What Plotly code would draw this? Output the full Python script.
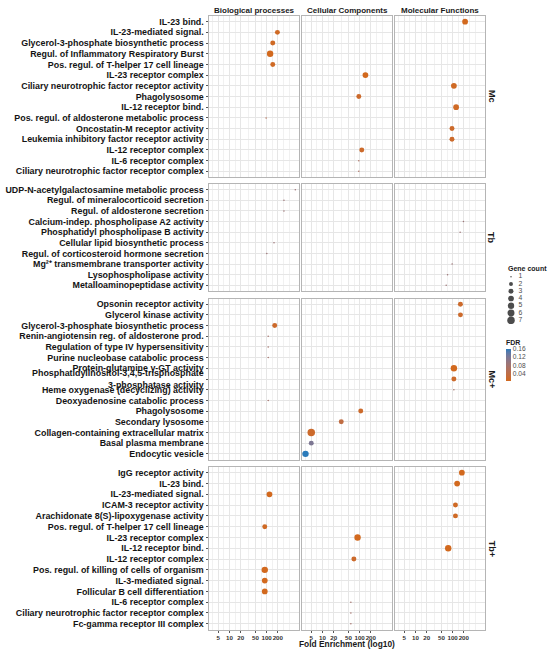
import numpy as np
import plotly.graph_objects as go

# ---------------- data ----------------
row_names = ["Mc", "Tb", "Mc+", "Tb+"]
col_names = ["Biological processes", "Cellular Components", "Molecular Functions"]
col_codes = ["BP", "CC", "MF"]

mc_terms = ["IL-23 bind.", "IL-23-mediated signal.", "Glycerol-3-phosphate biosynthetic process",
            "Regul. of Inflammatory Respiratory Burst", "Pos. regul. of T-helper 17 cell lineage",
            "IL-23 receptor complex", "Ciliary neurotrophic factor receptor activity", "Phagolysosome",
            "IL-12 receptor bind.", "Pos. regul. of aldosterone metabolic process",
            "Oncostatin-M receptor activity", "Leukemia inhibitory factor receptor activity",
            "IL-12 receptor complex", "IL-6 receptor complex", "Ciliary neurotrophic factor receptor complex"]
mc_class = ["MF", "BP", "BP", "BP", "BP", "CC", "MF", "CC", "MF", "BP", "MF", "MF", "CC", "CC", "CC"]
mc_fold = [216, 195, 146, 124, 146, 143, 108, 95, 124, 97, 96, 96, 114, 95, 95]
mc_count = [4, 3, 3, 5, 3, 4, 4, 3, 4, 1, 3, 3, 3, 1, 1]
mc_fdr = [0.01, 0.015, 0.015, 0.01, 0.015, 0.01, 0.015, 0.02, 0.015, 0.06, 0.02, 0.02, 0.02, 0.07, 0.07]

tb_terms = ["UDP-N-acetylgalactosamine metabolic process", "Regul. of mineralocorticoid secretion",
            "Regul. of aldosterone secretion", "Calcium-indep. phospholipase A2 activity",
            "Phosphatidyl phospholipase B activity", "Cellular lipid biosynthetic process",
            "Regul. of corticosteroid hormone secretion", "Mg²⁺ transmembrane transporter activity",
            "Lysophospholipase activity", "Metalloaminopeptidase activity"]
tb_class = ["BP", "BP", "BP", "MF", "MF", "BP", "BP", "MF", "MF", "MF"]
tb_fold = [589, 292, 292, 195, 159, 158, 101, 97, 73, 67]
tb_count = [1, 1, 1, 1, 1, 1, 1, 1, 1, 1]
tb_fdr = [0.09, 0.09, 0.09, 0.09, 0.09, 0.09, 0.09, 0.09, 0.09, 0.09]

mcp_terms = ["Opsonin receptor activity", "Glycerol kinase activity", "Glycerol-3-phosphate biosynthetic process",
             "Renin-angiotensin reg. of aldosterone prod.", "Regulation of type IV hypersensitivity",
             "Purine nucleobase catabolic process", "Protein-glutamine γ-GT activity",
             "Phosphatidylinositol-3,4,5-trisphosphate<br>3-phosphatase activity",
             "Heme oxygenase (decyclizing) activity", "Deoxyadenosine catabolic process", "Phagolysosome",
             "Secondary lysosome", "Collagen-containing extracellular matrix", "Basal plasma membrane",
             "Endocytic vesicle"]
mcp_class = ["MF", "MF", "BP", "BP", "BP", "BP", "MF", "MF", "MF", "BP", "CC", "CC", "CC", "CC", "CC"]
mcp_fold = [162, 162, 165, 110, 110, 110, 108, 108, 108, 110, 107, 32, 5.0, 5.0, 3.5]
mcp_count = [3, 3, 3, 1, 1, 1, 5, 3, 1, 1, 3, 3, 7, 3, 5]
mcp_fdr = [0.02, 0.02, 0.02, 0.08, 0.08, 0.08, 0.01, 0.02, 0.08, 0.08, 0.02, 0.04, 0.02, 0.12, 0.16]

tbp_terms = ["IgG receptor activity", "IL-23 bind.", "IL-23-mediated signal.", "ICAM-3 receptor activity",
             "Arachidonate 8(S)-lipoxygenase activity", "Pos. regul. of T-helper 17 cell lineage",
             "IL-23 receptor complex", "IL-12 receptor bind.", "IL-12 receptor complex",
             "Pos. regul. of killing of cells of organism", "IL-3-mediated signal.",
             "Follicular B cell differentiation", "IL-6 receptor complex",
             "Ciliary neurotrophic factor receptor complex", "Fc-gamma receptor III complex"]
tbp_class = ["MF", "MF", "BP", "MF", "MF", "BP", "CC", "MF", "CC", "BP", "BP", "BP", "CC", "CC", "CC"]
tbp_fold = [177, 132, 119, 119, 119, 89, 88, 76, 70, 89, 89, 89, 58, 58, 58]
tbp_count = [4, 4, 4, 3, 3, 3, 5, 5, 3, 5, 4, 4, 1, 1, 1]
tbp_fdr = [0.01, 0.01, 0.01, 0.015, 0.015, 0.015, 0.01, 0.01, 0.02, 0.01, 0.01, 0.01, 0.08, 0.08, 0.08]

x_ticks = [5, 10, 20, 50, 100, 200]
legend_counts = [1, 2, 3, 4, 5, 6, 7]
fdr_ticks = [0.04, 0.08, 0.12, 0.16]

rows = [
    (mc_terms, mc_class, mc_fold, mc_count, mc_fdr),
    (tb_terms, tb_class, tb_fold, tb_count, tb_fdr),
    (mcp_terms, mcp_class, mcp_fold, mcp_count, mcp_fdr),
    (tbp_terms, tbp_class, tbp_fold, tbp_count, tbp_fdr),
]

# ---------------- styling helpers ----------------
W, H = 550, 650
FONT = "Liberation Sans, Arial, sans-serif"
BORDER = "#B5B5B5"
GRID = "#E6E6E6"
GRID_MINOR = "#F1F1F1"

def fx(px):
    return px / W

def fy(px):
    return 1 - px / H

CMIN = min(min(r[4]) for r in rows)
CMAX = max(max(r[4]) for r in rows)
CMIN_COUNT = min(legend_counts)
CMAX_COUNT = max(legend_counts)

def size_scale(c):
    # ggplot-like area scale: diameter range [1.5, 7.5] px
    c = np.asarray(c, dtype=float)
    return 1.5 + 6.0 * np.sqrt((c - CMIN_COUNT) / (CMAX_COUNT - CMIN_COUNT))

# Lab-interpolated gradient (like ggplot scale_colour_gradient)
def _hex2rgb(h):
    h = h.lstrip("#")
    return np.array([int(h[i:i + 2], 16) for i in (0, 2, 4)]) / 255.0

def _srgb2lin(c):
    return np.where(c <= 0.04045, c / 12.92, ((c + 0.055) / 1.055) ** 2.4)

def _lin2srgb(c):
    return np.where(c <= 0.0031308, 12.92 * c, 1.055 * np.power(np.clip(c, 0, None), 1 / 2.4) - 0.055)

M = np.array([[0.4124, 0.3576, 0.1805], [0.2126, 0.7152, 0.0722], [0.0193, 0.1192, 0.9505]])
WP = np.array([0.95047, 1.0, 1.08883])

def _rgb2lab(rgb):
    xyz = M @ _srgb2lin(rgb) / WP
    f = np.where(xyz > 0.008856, np.cbrt(xyz), 7.787 * xyz + 16 / 116)
    return np.array([116 * f[1] - 16, 500 * (f[0] - f[1]), 200 * (f[1] - f[2])])

def _lab2rgb(lab):
    fy_ = (lab[0] + 16) / 116
    fx_ = fy_ + lab[1] / 500
    fz_ = fy_ - lab[2] / 200
    f = np.array([fx_, fy_, fz_])
    xyz = np.where(f ** 3 > 0.008856, f ** 3, (f - 16 / 116) / 7.787) * WP
    rgb = _lin2srgb(np.linalg.inv(M) @ xyz)
    return np.clip(rgb, 0, 1)

LOW, HIGH = "#D2691E", "#2B7BBA"
lab_lo, lab_hi = _rgb2lab(_hex2rgb(LOW)), _rgb2lab(_hex2rgb(HIGH))
colorscale = []
for t in np.linspace(0, 1, 11):
    r, g, b = (_lab2rgb(lab_lo + (lab_hi - lab_lo) * t) * 255).round().astype(int)
    colorscale.append([float(t), f"rgb({r},{g},{b})"])

# ---------------- layout geometry ----------------
col_dom = [(209, 299), (302, 392), (395, 485)]
row_dom = [(16, 177), (184, 291), (298.5, 459.5), (467, 629.5)]
EXP = 0.53  # discrete expansion (category units)
XRANGE = [0.45, 2.87]
minor_vals = [10 ** v for v in (0.548, 0.849, 1.151, 1.5, 1.849, 2.151, 2.452, 2.602)]

fig = go.Figure()
layout = {}

for r, (terms, cls, fold, count, fdr) in enumerate(rows):
    n = len(terms)
    for c, code in enumerate(col_codes):
        k = r * 3 + c + 1
        xs = "" if k == 1 else str(k)
        idx = [i for i, cl in enumerate(cls) if cl == code]
        fig.add_trace(go.Scatter(
            x=[fold[i] for i in idx],
            y=[terms[i] for i in idx],
            mode="markers",
            xaxis="x" + xs, yaxis="y" + xs,
            marker=dict(size=list(size_scale([count[i] for i in idx])) if idx else [],
                        color=[fdr[i] for i in idx], coloraxis="coloraxis",
                        line=dict(width=0), opacity=1),
            hoverinfo="x+y",
        ))
        bottom = r == len(rows) - 1
        layout["xaxis" + xs] = dict(
            domain=[fx(col_dom[c][0]), fx(col_dom[c][1])], anchor="y" + xs,
            type="log", range=XRANGE, autorange=False,
            tickvals=x_ticks, ticktext=[str(v) for v in x_ticks], tickangle=0,
            showticklabels=bottom, ticks="outside" if bottom else "",
            ticklen=2.5, tickwidth=0.8, tickcolor="#555555",
            tickfont=dict(family=FONT, size=6.2, color="#333333", weight="bold"),
            showgrid=True, gridcolor=GRID, gridwidth=0.7,
            minor=dict(tickvals=minor_vals, showgrid=True, gridcolor=GRID_MINOR, gridwidth=0.5, ticks=""),
            showline=True, mirror=True, linecolor=BORDER, linewidth=1,
            zeroline=False, fixedrange=True,
        )
        layout["yaxis" + xs] = dict(
            domain=[fy(row_dom[r][1]), fy(row_dom[r][0])], anchor="x" + xs,
            type="category", categoryorder="array", categoryarray=terms,
            tickmode="array", tickvals=terms, ticktext=terms,
            range=[n - 1 + EXP, -EXP], autorange=False,
            showticklabels=(c == 0), ticks="outside" if c == 0 else "",
            ticklen=2.5, tickwidth=0.8, tickcolor="#555555",
            tickfont=dict(family=FONT, size=8.9, color="#141414", weight="bold"),
            showgrid=True, gridcolor=GRID, gridwidth=0.7,
            showline=True, mirror=True, linecolor=BORDER, linewidth=1,
            zeroline=False, fixedrange=True,
        )

# ---- size legend drawn on its own small axes ----
fig.add_trace(go.Scatter(
    x=[0.2] * len(legend_counts), y=legend_counts, mode="markers",
    xaxis="x13", yaxis="y13",
    marker=dict(size=list(size_scale(legend_counts)), color="#000000", line=dict(width=0)),
    hoverinfo="skip",
))
fig.add_trace(go.Scatter(
    x=[0.45] * len(legend_counts), y=legend_counts, mode="text",
    text=[str(v) for v in legend_counts], textposition="middle right",
    textfont=dict(family=FONT, size=6.8, color="#4D4D4D"),
    xaxis="x13", yaxis="y13", hoverinfo="skip",
))
layout["xaxis13"] = dict(domain=[fx(505), fx(535)], anchor="y13", range=[0, 1],
                         visible=False, fixedrange=True)
layout["yaxis13"] = dict(domain=[fy(324), fy(273)], anchor="x13", range=[7.5, 0.5],
                         visible=False, fixedrange=True)

annotations = []
for c, name in enumerate(col_names):
    annotations.append(dict(
        text=name, x=fx((col_dom[c][0] + col_dom[c][1]) / 2), y=fy(10.8),
        xref="paper", yref="paper", showarrow=False, xanchor="center", yanchor="middle",
        font=dict(family=FONT, size=8, color="#1A1A1A", weight="bold")))
for r, name in enumerate(row_names):
    annotations.append(dict(
        text=name, x=fx(491.5), y=fy((row_dom[r][0] + row_dom[r][1]) / 2),
        xref="paper", yref="paper", showarrow=False, xanchor="center", yanchor="middle",
        textangle=90, font=dict(family=FONT, size=9, color="#1A1A1A", weight="bold")))
annotations.append(dict(
    text="Fold Enrichment (log10)", x=fx((col_dom[1][0] + col_dom[1][1]) / 2), y=fy(643.5),
    xref="paper", yref="paper", showarrow=False, xanchor="center", yanchor="middle",
    font=dict(family=FONT, size=8.4, color="#1A1A1A", weight="bold")))
annotations.append(dict(
    text="Gene count", x=fx(506), y=fy(268.5),
    xref="paper", yref="paper", showarrow=False, xanchor="left", yanchor="middle",
    font=dict(family=FONT, size=7, color="#1A1A1A", weight="bold")))

fig.update_layout(
    width=W, height=H,
    margin=dict(l=0, r=0, t=0, b=0, autoexpand=False),
    paper_bgcolor="white", plot_bgcolor="white",
    showlegend=False,
    annotations=annotations,
    coloraxis=dict(
        colorscale=colorscale, cmin=CMIN, cmax=CMAX,
        colorbar=dict(
            x=fx(506), xanchor="left", y=fy(358.5), yanchor="middle",
            len=44, lenmode="pixels", thickness=5, thicknessmode="pixels",
            outlinewidth=0, xpad=0, ypad=0,
            tickvals=fdr_ticks, ticktext=[f"{v:.2f}" for v in fdr_ticks],
            ticks="",
            tickfont=dict(family=FONT, size=6.6, color="#4D4D4D"),
            title=dict(text="FDR", side="top",
                       font=dict(family=FONT, size=7, color="#1A1A1A", weight="bold")),
        ),
    ),
    **layout,
)

fig.write_html("out.html", config={"displayModeBar": False},
               post_script="document.body.style.margin='0px';document.body.style.overflow='hidden';")
